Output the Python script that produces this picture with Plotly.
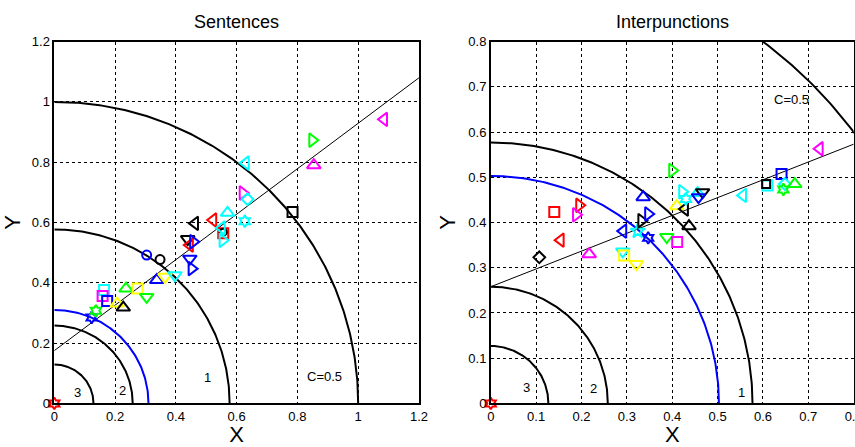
import numpy as np
import plotly.graph_objects as go

# ---------------- data ----------------
# Sentences panel
sent_x = [0.0, 0.123, 0.137, 0.164, 0.159, 0.174, 0.207, 0.227, 0.236, 0.274,
          0.304, 0.337, 0.364, 0.397, 0.304, 0.348, 0.439, 0.446, 0.457, 0.446,
          0.452, 0.463, 0.523, 0.570, 0.556, 0.556, 0.551, 0.554, 0.627, 0.620,
          0.636, 0.630, 0.784, 0.849, 0.854, 1.085]
sent_y = [0.0, 0.285, 0.307, 0.376, 0.356, 0.340, 0.331, 0.318, 0.381, 0.381,
          0.353, 0.409, 0.420, 0.425, 0.492, 0.477, 0.545, 0.525, 0.536, 0.480,
          0.447, 0.597, 0.608, 0.632, 0.564, 0.568, 0.582, 0.541, 0.604, 0.698,
          0.677, 0.797, 0.635, 0.873, 0.790, 0.942]
sent_marks = ["rh", "bh", "gh", "cs", "ms", "bs", "y^", "k^", "g^", "ys",
              "gv", "b^", "yv", "cv", "bo", "ko", "kv", "r<", "b>", "bv",
              "b>", "k<", "r<", "c^", "rs", "ko", "c<", "c>", "ch", "m>",
              "cd", "c<", "ks", "g>", "m^", "m<"]

# Interpunctions panel
punc_x = [0.0, 0.107, 0.154, 0.140, 0.195, 0.188, 0.217, 0.292, 0.291, 0.294,
          0.321, 0.324, 0.347, 0.332, 0.347, 0.336, 0.388, 0.411, 0.437, 0.400,
          0.410, 0.428, 0.422, 0.430, 0.456, 0.467, 0.458, 0.556, 0.610, 0.607,
          0.641, 0.648, 0.645, 0.670, 0.725]
punc_y = [0.0, 0.323, 0.361, 0.423, 0.438, 0.417, 0.330, 0.381, 0.336, 0.327,
          0.308, 0.381, 0.366, 0.404, 0.419, 0.456, 0.368, 0.357, 0.392, 0.515,
          0.436, 0.430, 0.468, 0.452, 0.465, 0.467, 0.456, 0.460, 0.482, 0.485,
          0.507, 0.485, 0.473, 0.485, 0.563]
punc_marks = ["rh", "kd", "r<", "rs", "r>", "m>", "m^", "b<", "cv", "ys",
              "yv", "cp", "bh", "k>", "b>", "b^", "gv", "ms", "k^", "g>",
              "y^", "k<", "c>", "ch", "c^", "kv", "bv", "c<", "cs", "ks",
              "bs", "cd", "gh", "g^", "m<"]

# axis ticks
sent_ticks = [0, 0.2, 0.4, 0.6, 0.8, 1, 1.2]
sent_tick_text = ["0", "0.2", "0.4", "0.6", "0.8", "1", "1.2"]
punc_ticks = [0, 0.1, 0.2, 0.3, 0.4, 0.5, 0.6, 0.7, 0.8]
punc_tick_text = ["0", "0.1", "0.2", "0.3", "0.4", "0.5", "0.6", "0.7", "0.8"]

# reference circles: radius and label
sent_radii = [1.0, 0.577, 0.31, 0.258, 0.129]
punc_radii = [1.0, 0.577, 0.503, 0.258, 0.127]
circle_labels = ["C=0.5", "1", None, "2", "3"]

# fitted lines (intercept, slope)
sent_fit = (0.175, 0.754)
punc_fit = (0.258, 0.394)

# ---------------- styles ----------------
COLORS = {"r": "#ff0000", "g": "#00ff00", "b": "#0000ff", "c": "#00ffff",
          "m": "#ff00ff", "y": "#ffff00", "k": "#000000"}
SYMBOLS = {"<": "triangle-left-open", ">": "triangle-right-open",
           "^": "triangle-up-open", "v": "triangle-down-open",
           "s": "square-open", "o": "circle-open", "d": "diamond-open",
           "h": "hexagram-open", "p": "star-open"}
SIZES = {"<": 12, ">": 12, "^": 12, "v": 12, "s": 10, "o": 9, "d": 9,
         "h": 9, "p": 11}
FONT = "Liberation Sans, Arial, sans-serif"

fig = go.Figure()


def add_panel(xs, ys, marks, radii, fit, xmax, xref, yref, label_pos):
    theta = np.linspace(0, np.pi / 2, 200)
    for r, lab in zip(radii, circle_labels):
        col = "#0000ff" if lab is None else "#000000"
        fig.add_trace(go.Scatter(x=r * np.cos(theta), y=r * np.sin(theta),
                                 mode="lines", line=dict(color=col, width=2),
                                 xaxis=xref, yaxis=yref, hoverinfo="skip",
                                 showlegend=False))
    b0, b1 = fit
    fx = np.array([0.0, xmax])
    fig.add_trace(go.Scatter(x=fx, y=b0 + b1 * fx, mode="lines",
                             line=dict(color="#000000", width=1),
                             xaxis=xref, yaxis=yref, showlegend=False))
    for x, y, m in zip(xs, ys, marks):
        c, s = m[0], m[1]
        size = SIZES[s]
        if m == "ko" and x > 0.5:
            size = 7
        if m == "ks" and xmax < 1:
            size = 8
        fig.add_trace(go.Scatter(
            x=[x], y=[y], mode="markers", cliponaxis=False,
            marker=dict(symbol=SYMBOLS[s], size=size, color=COLORS[c],
                        line=dict(width=2, color=COLORS[c])),
            xaxis=xref, yaxis=yref, showlegend=False))
    for lab, pos in zip(circle_labels, label_pos):
        if lab is None or pos is None:
            continue
        fig.add_annotation(x=pos[0], y=pos[1], xref=xref, yref=yref, text=lab,
                           showarrow=False,
                           font=dict(family=FONT, size=13, color="#000000"))


add_panel(sent_x, sent_y, sent_marks, sent_radii, sent_fit, 1.2, "x", "y",
          [(0.89, 0.09), (0.503, 0.087), None, (0.223, 0.044), (0.075, 0.035)])
add_panel(punc_x, punc_y, punc_marks, punc_radii, punc_fit, 0.8, "x2", "y2",
          [(0.664, 0.672), (0.553, 0.025), None, (0.226, 0.034), (0.079, 0.035)])

axis_common = dict(showgrid=True, gridcolor="#000000", griddash="dot",
                   gridwidth=1, showline=True, mirror=True, linecolor="#000000",
                   linewidth=1.5, zeroline=False, ticks="", automargin=False,
                   tickmode="array", ticklabeloverflow="allow",
                   tickfont=dict(family=FONT, size=13, color="#000000"))
title_font = dict(family=FONT, size=22, color="#000000")

fig.update_layout(
    width=855, height=447,
    margin=dict(l=0, r=0, t=0, b=0),
    paper_bgcolor="white", plot_bgcolor="white",
    font=dict(family=FONT, color="#000000"),
    xaxis=dict(domain=[0.0635, 0.490], range=[0, 1.2],
               tickvals=sent_ticks, ticktext=sent_tick_text,
               title=dict(text="X", standoff=8, font=title_font), anchor="y",
               **axis_common),
    yaxis=dict(domain=[0.0975, 0.907], range=[0, 1.2],
               tickvals=sent_ticks, ticktext=sent_tick_text,
               title=dict(text="Y", standoff=7, font=title_font), anchor="x",
               **axis_common),
    xaxis2=dict(domain=[0.574, 0.9985], range=[0, 0.8001],
                tickvals=punc_ticks, ticktext=punc_tick_text,
                title=dict(text="X", standoff=8, font=title_font), anchor="y2",
                **axis_common),
    yaxis2=dict(domain=[0.0975, 0.907], range=[0, 0.8001],
                tickvals=punc_ticks, ticktext=punc_tick_text,
                title=dict(text="Y", standoff=7, font=title_font), anchor="x2",
                **axis_common),
)

fig.add_annotation(x=0.2765, y=0.951, xref="paper", yref="paper",
                   xanchor="center", yanchor="middle",
                   text="Sentences", showarrow=False,
                   font=dict(family=FONT, size=18, color="#000000"))
fig.add_annotation(x=0.786, y=0.951, xref="paper", yref="paper",
                   xanchor="center", yanchor="middle",
                   text="Interpunctions", showarrow=False,
                   font=dict(family=FONT, size=18, color="#000000"))

fig.write_html("out.html")
